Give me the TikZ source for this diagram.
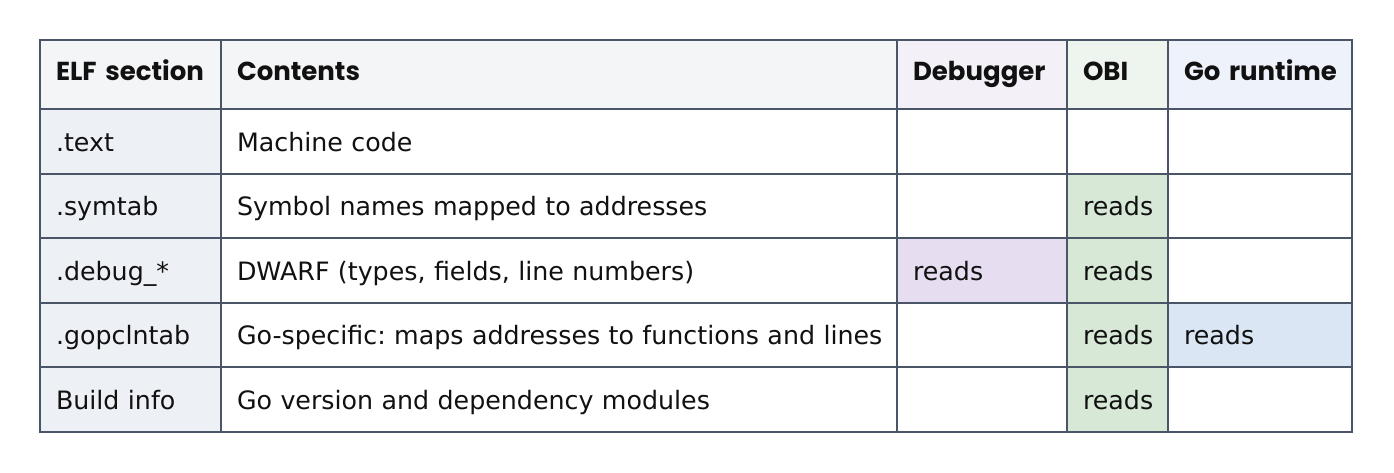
\documentclass[tikz,border=0pt]{standalone}
\usepackage{fontspec}
\setmainfont{DejaVu Sans}
\newfontfamily\hdrfont{Poppins}[UprightFont={* Bold},BoldFont={* Bold}]
\definecolor{gridc}{HTML}{4A5568}
\definecolor{hdrbg}{HTML}{F4F5F7}
\definecolor{colbg}{HTML}{EDF0F5}
\definecolor{dbghdr}{HTML}{F3F0F7}
\definecolor{obihdr}{HTML}{EEF5EE}
\definecolor{gohdr}{HTML}{EEF3FB}
\definecolor{dbgread}{HTML}{E6DEF0}
\definecolor{obiread}{HTML}{D7E8D6}
\definecolor{goread}{HTML}{DAE6F3}
\definecolor{txt}{HTML}{111111}
\newcommand\tcell[8]{% name, x, y, w, h, fill, extra style, text
  \node[cellbox, fill=#6, minimum width=#4pt, minimum height=#5pt,
        text width=#4pt-32pt, #7] (#1) at (#2,#3) {\mbox{#8}};}
\begin{document}
\frenchspacing
\begin{tikzpicture}[x=1pt,y=-1pt,
  cellbox/.style={draw=gridc, line width=2pt, anchor=north west, inner xsep=16pt,
    inner ysep=0pt, outer sep=0pt, align=left, text=txt,
    text height=19pt, text depth=0pt,
    font=\fontsize{25.3}{30}\selectfont},
  hdrcell/.style={font=\hdrfont\fontsize{26}{30}\selectfont,
    text height=18pt, text depth=7pt}]
\useasboundingbox[fill=white] (0,0) rectangle (1394,472);
% header row
\tcell{h1}{40}{40}{181}{69}{hdrbg}{hdrcell}{ELF section}
\tcell{h2}{221}{40}{676}{69}{hdrbg}{hdrcell}{Contents}
\tcell{h3}{897}{40}{170}{69}{dbghdr}{hdrcell}{Debugger}
\tcell{h4}{1067}{40}{101}{69}{obihdr}{hdrcell}{OBI}
\tcell{h5}{1168}{40}{184}{69}{gohdr}{hdrcell}{Go runtime}
% row 1
\tcell{a1}{40}{109}{181}{65}{colbg}{}{.text}
\tcell{b1}{221}{109}{676}{65}{white}{}{Machine code}
\tcell{c1}{897}{109}{170}{65}{white}{}{}
\tcell{d1}{1067}{109}{101}{65}{white}{}{}
\tcell{e1}{1168}{109}{184}{65}{white}{}{}
% row 2
\tcell{a2}{40}{174}{181}{64}{colbg}{}{.symtab}
\tcell{b2}{221}{174}{676}{64}{white}{}{Symbol names mapped to addresses}
\tcell{c2}{897}{174}{170}{64}{white}{}{}
\tcell{d2}{1067}{174}{101}{64}{obiread}{}{reads}
\tcell{e2}{1168}{174}{184}{64}{white}{}{}
% row 3
\tcell{a3}{40}{238}{181}{65}{colbg}{}{.debug\_*}
\tcell{b3}{221}{238}{676}{65}{white}{}{DWARF (types, fields, line numbers)}
\tcell{c3}{897}{238}{170}{65}{dbgread}{}{reads}
\tcell{d3}{1067}{238}{101}{65}{obiread}{}{reads}
\tcell{e3}{1168}{238}{184}{65}{white}{}{}
% row 4
\tcell{a4}{40}{303}{181}{64}{colbg}{}{.gopclntab}
\tcell{b4}{221}{303}{676}{64}{white}{}{Go-specific: maps addresses to functions and lines}
\tcell{c4}{897}{303}{170}{64}{white}{}{}
\tcell{d4}{1067}{303}{101}{64}{obiread}{}{reads}
\tcell{e4}{1168}{303}{184}{64}{goread}{}{reads}
% row 5
\tcell{a5}{40}{367}{181}{65}{colbg}{}{Build info}
\tcell{b5}{221}{367}{676}{65}{white}{}{Go version and dependency modules}
\tcell{c5}{897}{367}{170}{65}{white}{}{}
\tcell{d5}{1067}{367}{101}{65}{obiread}{}{reads}
\tcell{e5}{1168}{367}{184}{65}{white}{}{}
\end{tikzpicture}
\end{document}
